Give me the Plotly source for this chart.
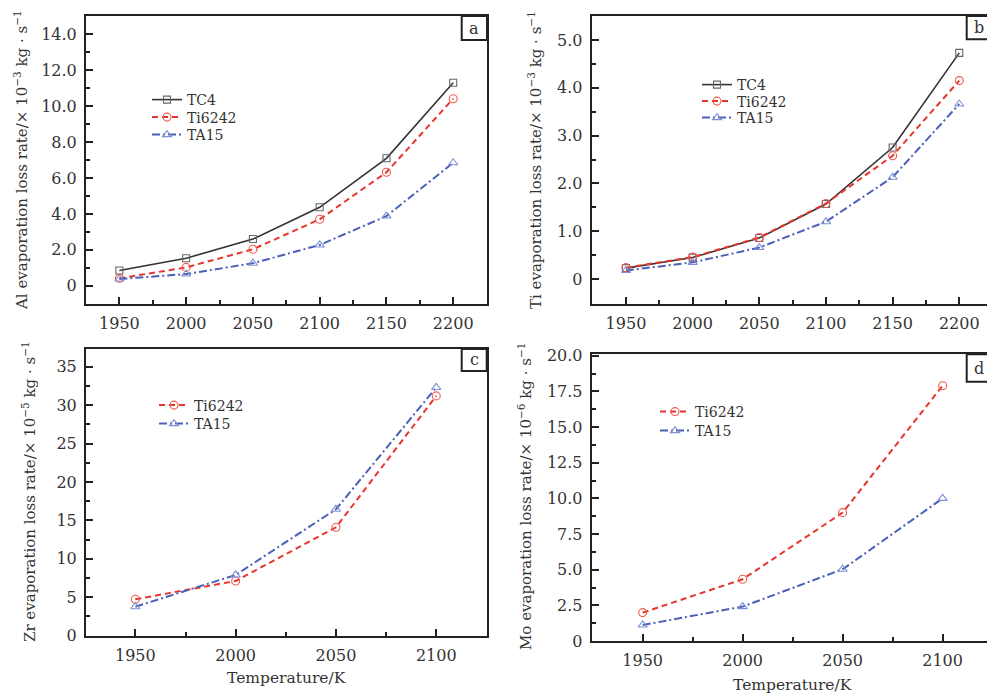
import plotly.graph_objects as go

# Temperatures (K)
temps_ab = [1950, 2000, 2050, 2100, 2150, 2200]
temps_cd = [1950, 2000, 2050, 2100]

# (a) Al evaporation loss rate, x10^-3 kg/s
al_tc4 = [0.85, 1.53, 2.60, 4.37, 7.10, 11.31]
al_ti6242 = [0.41, 1.02, 2.03, 3.70, 6.32, 10.42]
al_ta15 = [0.37, 0.65, 1.25, 2.27, 3.88, 6.85]

# (b) Ti evaporation loss rate, x10^-3 kg/s
ti_tc4 = [0.23, 0.45, 0.86, 1.57, 2.75, 4.73]
ti_ti6242 = [0.24, 0.46, 0.87, 1.58, 2.58, 4.15]
ti_ta15 = [0.18, 0.35, 0.66, 1.20, 2.13, 3.66]

# (c) Zr evaporation loss rate, x10^-5 kg/s
zr_ti6242 = [4.74, 7.12, 14.1, 31.2]
zr_ta15 = [3.77, 7.90, 16.45, 32.3]

# (d) Mo evaporation loss rate, x10^-6 kg/s
mo_ti6242 = [1.99, 4.33, 9.00, 17.9]
mo_ta15 = [1.12, 2.41, 5.03, 10.0]

W, H = 987, 693
FONT = "DejaVu Serif"
TXT = "#333333"
AX = "#222222"


def px(x):
    return x / W


def py(y):
    return 1 - y / H


styles = {
    "TC4": dict(line=dict(color="#333333", width=1.6, dash="solid"),
                marker=dict(symbol="square-open", size=7, color="#666666",
                            line=dict(width=1.1))),
    "Ti6242": dict(line=dict(color="#e8352c", width=2, dash="6px,4px"),
                   marker=dict(symbol="circle-open", size=8, color="#ef5a52",
                               line=dict(width=1.1))),
    "TA15": dict(line=dict(color="#4a5fb8", width=2, dash="8px,3px,2px,3px"),
                 marker=dict(symbol="triangle-up-open", size=8, color="#7d8fd6",
                             line=dict(width=1.1))),
}

fig = go.Figure()
legend_layout = {}
legend_count = [0]


def add(name, xs, ys, axis, lx, ly):
    # every legend row is its own legend box so the row spacing can be set freely
    legend_count[0] += 1
    key = "legend" if legend_count[0] == 1 else "legend%d" % legend_count[0]
    legend_layout[key] = dict(
        bgcolor="rgba(0,0,0,0)", font=dict(family=FONT, size=14, color=TXT),
        itemwidth=30, xanchor="left", yanchor="middle", borderwidth=0,
        x=px(lx), y=py(ly))
    st = styles[name]
    fig.add_trace(go.Scatter(
        x=xs, y=ys, name=name, mode="lines+markers",
        line=st["line"], marker=st["marker"],
        xaxis="x" + axis, yaxis="y" + axis, legend=key))


add("TC4", temps_ab, al_tc4, "", 147, 100)
add("Ti6242", temps_ab, al_ti6242, "", 147, 117.5)
add("TA15", temps_ab, al_ta15, "", 147, 135)
add("TC4", temps_ab, ti_tc4, "2", 697, 85)
add("Ti6242", temps_ab, ti_ti6242, "2", 697, 101.5)
add("TA15", temps_ab, ti_ta15, "2", 697, 118)
add("Ti6242", temps_cd, zr_ti6242, "3", 154, 405.5)
add("TA15", temps_cd, zr_ta15, "3", 154, 424)
add("Ti6242", temps_cd, mo_ti6242, "4", 655, 412)
add("TA15", temps_cd, mo_ta15, "4", 655, 431)


def axis(domain, rng, dtick, tick0, minor, anchor, mirror=True, fmt=None):
    d = dict(
        domain=domain, range=rng, anchor=anchor, automargin=False,
        showline=True, linecolor=AX, linewidth=2, mirror=mirror,
        ticks="inside", ticklen=7, tickwidth=1.5, tickcolor=AX,
        tickmode="linear", dtick=dtick, tick0=tick0,
        minor=dict(ticks="inside", ticklen=4, tickwidth=1.5, tickcolor=AX,
                   dtick=minor, tick0=tick0),
        showgrid=False, zeroline=False,
        tickfont=dict(family=FONT, size=16, color=TXT),
        ticklabelstandoff=4,
    )
    if fmt:
        d["tickformat"] = fmt
        d["labelalias"] = {"0.0": "0"}
    return d


xa = [px(86), px(487)]
xb = [px(591.7), 1.0]
ya = [py(304), py(16)]
yc = [py(635.7), py(349)]
yd = [py(641), py(354.3)]

fig.update_layout(
    width=W, height=H,
    margin=dict(l=0, r=0, t=0, b=0, autoexpand=False),
    paper_bgcolor="white", plot_bgcolor="white",
    xaxis=axis(xa, [1925, 2225.3], 50, 1950, 25, "y"),
    yaxis=axis(ya, [-1.02, 15.03], 2, 0, 1, "x", fmt=".1f"),
    xaxis2=axis(xb, [1924.3, 2220.8], 50, 1950, 25, "y2"),
    yaxis2=axis(ya, [-0.52, 5.5], 1, 0, 0.5, "x2", mirror=False, fmt=".1f"),
    xaxis3=axis(xa, [1925.4, 2125.3], 50, 1950, 25, "y3"),
    yaxis3=axis(yc, [0, 37.3], 5, 0, 2.5, "x3"),
    xaxis4=axis(xb, [1924.5, 2122.2], 50, 1950, 25, "y4"),
    yaxis4=axis(yd, [0, 20.1], 2.5, 0, 1.25, "x4", mirror=False, fmt=".1f"),
    showlegend=True,
    **legend_layout,
)

# Axis titles
ytitles = [
    ("Al evaporation loss rate/× 10<sup>−3</sup> kg · s<sup>−1</sup>", 21, 160),
    ("Ti evaporation loss rate/× 10<sup>−3</sup> kg · s<sup>−1</sup>", 535, 160),
    ("Zr evaporation loss rate/× 10<sup>−5</sup> kg · s<sup>−1</sup>", 29, 492),
    ("Mo evaporation loss rate/× 10<sup>−6</sup> kg · s<sup>−1</sup>", 525, 497),
]
for text, cx, cy in ytitles:
    fig.add_annotation(text=text, x=px(cx), y=py(cy), xref="paper", yref="paper",
                       textangle=-90, showarrow=False, xanchor="center", yanchor="middle",
                       font=dict(family=FONT, size=15, color=TXT))

for cx, cy in [(286.5, 678), (792, 685)]:
    fig.add_annotation(text="Temperature/K", x=px(cx), y=py(cy), xref="paper", yref="paper",
                       showarrow=False, xanchor="center", yanchor="middle",
                       font=dict(family=FONT, size=15.5, color=TXT))

# Panel letter boxes
boxes = [("a", 461.7, 487, 16, 40), ("b", 966.7, 993, 16, 39.3),
         ("c", 461.7, 486.7, 349, 371), ("d", 966.7, 993, 354.3, 381.7)]
for letter, x0, x1, y0, y1 in boxes:
    fig.add_shape(type="rect", xref="paper", yref="paper",
                  x0=px(x0), x1=px(x1), y0=py(y1), y1=py(y0),
                  line=dict(color=AX, width=2), fillcolor="white")
    fig.add_annotation(text=letter, x=px(x0 + 12.5), y=py((y0 + y1) / 2),
                       xref="paper", yref="paper", showarrow=False,
                       xanchor="center", yanchor="middle",
                       font=dict(family=FONT, size=16, color=TXT))

fig.write_html("out.html")
